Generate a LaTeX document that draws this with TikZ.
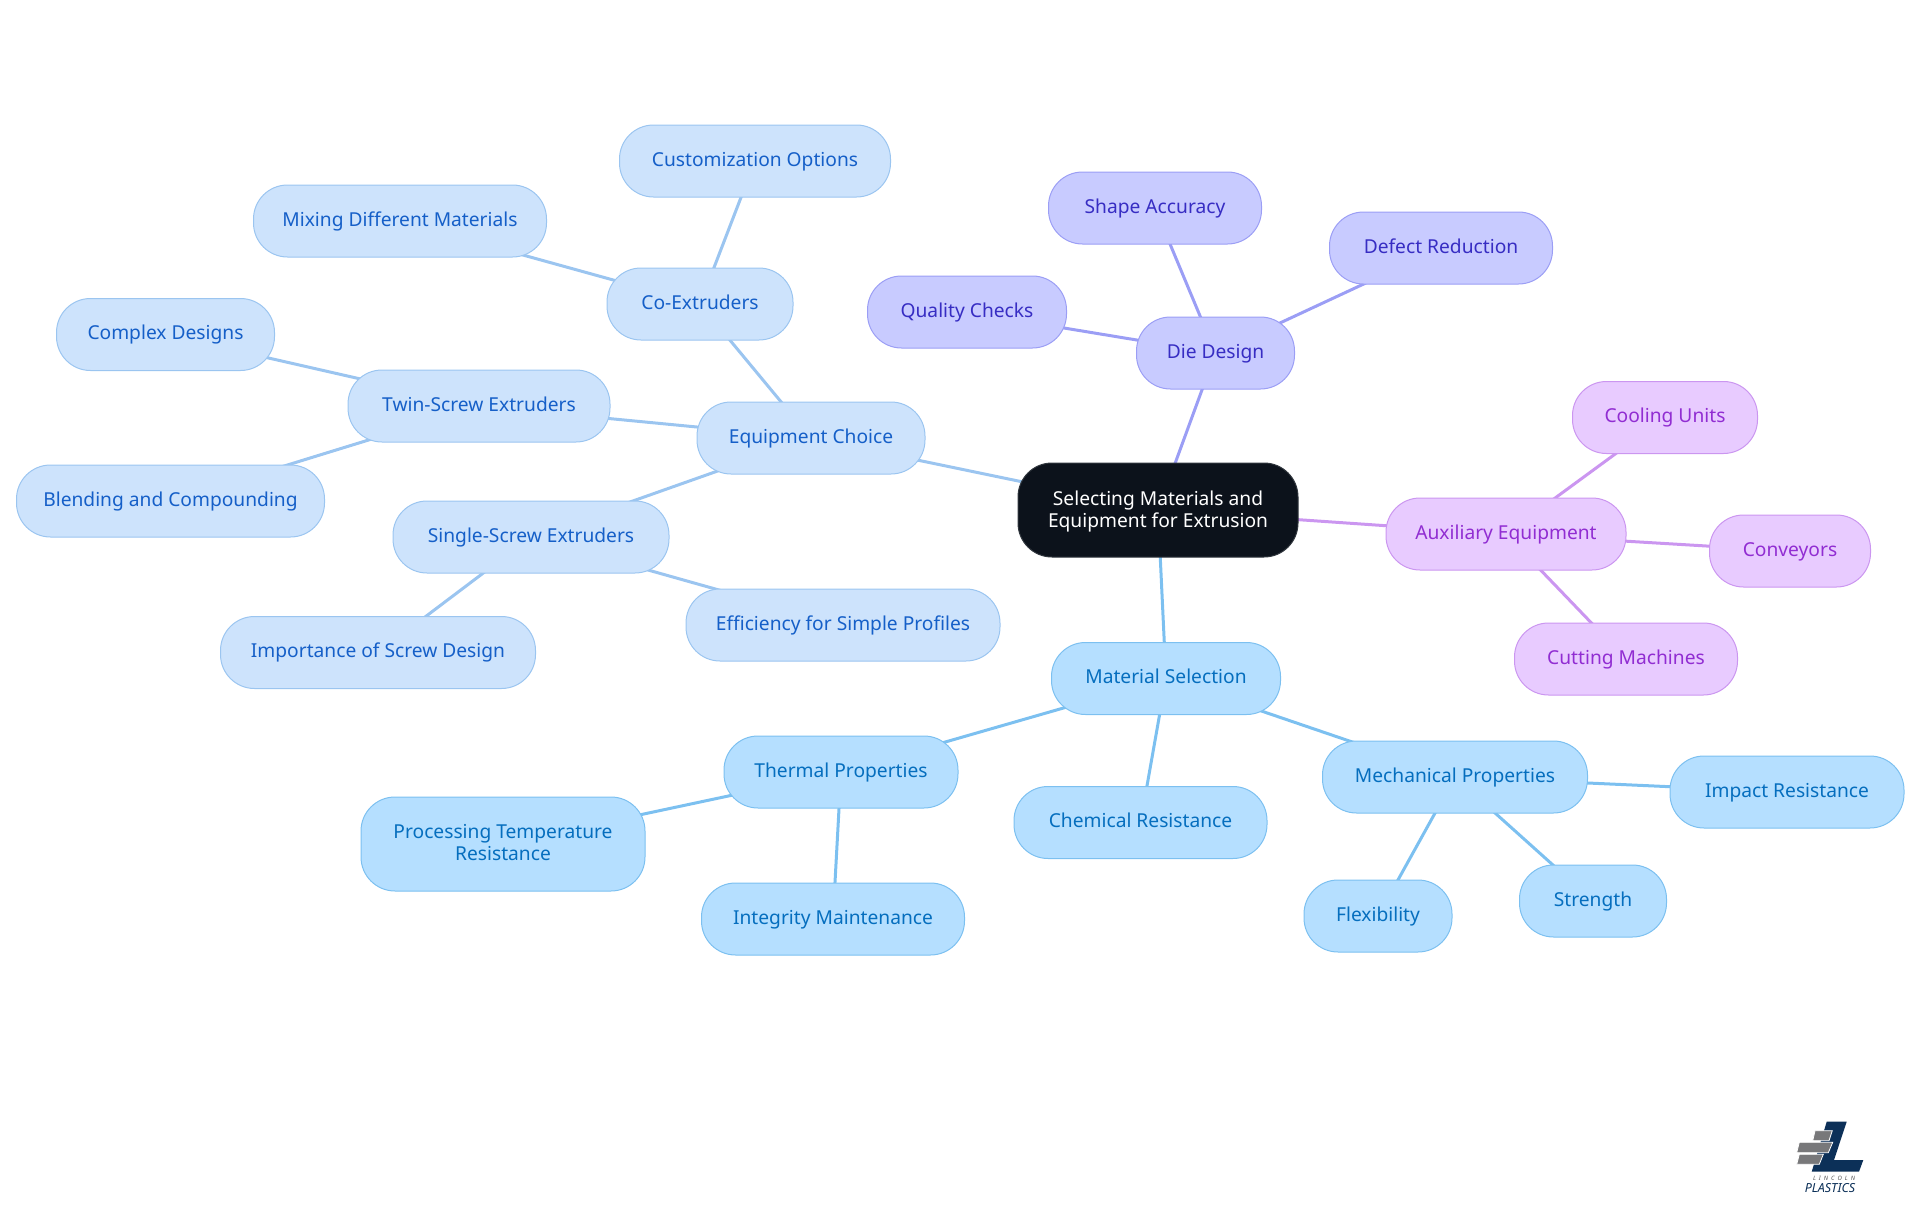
\documentclass[tikz,border=0pt]{standalone}
\usepackage{fontspec}
\setmainfont{Noto Sans}
\usetikzlibrary{backgrounds}
\definecolor{raiz}{RGB}{12, 18, 27}
\definecolor{azulF}{RGB}{181, 223, 255}
\definecolor{azulL}{RGB}{124, 192, 240}
\definecolor{azulT}{RGB}{5, 110, 190}
\definecolor{celesteF}{RGB}{205, 227, 252}
\definecolor{celesteL}{RGB}{155, 197, 240}
\definecolor{celesteT}{RGB}{21, 95, 200}
\definecolor{anilF}{RGB}{200, 203, 255}
\definecolor{anilL}{RGB}{155, 158, 245}
\definecolor{anilT}{RGB}{55, 45, 195}
\definecolor{lilasF}{RGB}{232, 203, 255}
\definecolor{lilasL}{RGB}{203, 150, 240}
\definecolor{lilasT}{RGB}{145, 45, 210}
\definecolor{marinho}{RGB}{12, 48, 88}
\definecolor{tijolo}{RGB}{120, 120, 122}
\tikzset{
  caixa/.style={
    draw, line width=1pt, rounded corners=34pt, align=center,
    minimum height=72pt, inner sep=0pt, text height=14pt, text depth=3.4pt,
    font=\fontsize{19.2}{22}\selectfont
  },
  caixaDupla/.style={minimum height=94pt, text height=, text depth=2.6pt},
  caixaAzul/.style={caixa, fill=azulF, draw=azulL, text=azulT},
  caixaCeleste/.style={caixa, fill=celesteF, draw=celesteL, text=celesteT},
  caixaAnil/.style={caixa, fill=anilF, draw=anilL, text=anilT},
  caixaLilas/.style={caixa, fill=lilasF, draw=lilasL, text=lilasT},
  tijoloLogo/.style={fill=tijolo, draw=white, line width=.8pt},
  linha/.style={line width=3pt},
}
\begin{document}
\begin{tikzpicture}[x=1pt, y=-1pt]
\useasboundingbox (0,0) rectangle (1920,1215);

\node[caixa, caixaDupla, fill=raiz, draw=raiz!85!white, text=white, minimum width=280pt] (root) at (1158,510)
{Selecting Materials and\\Equipment for Extrusion};

% equipment
\node[caixaCeleste, minimum width=228pt] (equipment) at (811,438) {Equipment Choice};
\node[caixaCeleste, minimum width=186pt] (coextruders) at (700,304) {Co-Extruders};
\node[caixaCeleste, minimum width=271pt] (customization) at (755,161) {Customization Options};
\node[caixaCeleste, minimum width=293pt] (mixing) at (400,221) {Mixing Different Materials};
\node[caixaCeleste, minimum width=262pt] (twinscrew) at (479,406) {Twin-Screw Extruders};
\node[caixaCeleste, minimum width=218pt] (complex) at (165.5,334.5) {Complex Designs};
\node[caixaCeleste, minimum width=308pt] (blending) at (170.5,501) {Blending and Compounding};
\node[caixaCeleste, minimum width=276pt] (singlescrew) at (531,537) {Single-Screw Extruders};
\node[caixaCeleste, minimum width=315pt] (importance) at (378,652.5) {Importance of Screw Design};
\node[caixaCeleste, minimum width=314pt] (efficiency) at (843,625) {Efficiency for Simple Profiles};

% die
\node[caixaAnil, minimum width=158pt] (die) at (1215.5,353) {Die Design};
\node[caixaAnil, minimum width=213pt] (shape) at (1155,208) {Shape Accuracy};
\node[caixaAnil, minimum width=223pt] (defect) at (1441,248) {Defect Reduction};
\node[caixaAnil, minimum width=199pt] (quality) at (967,312) {Quality Checks};

% auxiliary
\node[caixaLilas, minimum width=240pt] (auxiliary) at (1506,534) {Auxiliary Equipment};
\node[caixaLilas, minimum width=185pt] (cooling) at (1665,417.5) {Cooling Units};
\node[caixaLilas, minimum width=161pt] (conveyors) at (1790,551) {Conveyors};
\node[caixaLilas, minimum width=223pt] (cutting) at (1626,659) {Cutting Machines};

% material
\node[caixaAzul, minimum width=229pt] (material) at (1166,678.5) {Material Selection};
\node[caixaAzul, minimum width=234pt] (thermal) at (841,772) {Thermal Properties};
\node[caixaAzul, caixaDupla, minimum width=284pt] (processing) at (503,844) {Processing Temperature\\Resistance};
\node[caixaAzul, minimum width=263pt] (integrity) at (833,919) {Integrity Maintenance};
\node[caixaAzul, minimum width=253pt] (chemical) at (1140.5,822.5) {Chemical Resistance};
\node[caixaAzul, minimum width=265pt] (mechanical) at (1455,777) {Mechanical Properties};
\node[caixaAzul, minimum width=234pt] (impact) at (1787,792) {Impact Resistance};
\node[caixaAzul, minimum width=148pt] (flexibility) at (1378,916) {Flexibility};
\node[caixaAzul, minimum width=147pt] (strength) at (1593,901) {Strength};

\begin{scope}[on background layer]
\foreach \a/\b in {root/equipment, equipment/coextruders, coextruders/customization,
    coextruders/mixing, equipment/twinscrew, twinscrew/complex, twinscrew/blending,
    equipment/singlescrew, singlescrew/importance, singlescrew/efficiency}
  \draw[linha, celesteL] (\a.center) -- (\b.center);
\foreach \a/\b in {root/die, die/shape, die/defect, die/quality}
  \draw[linha, anilL] (\a.center) -- (\b.center);
\foreach \a/\b in {root/auxiliary, auxiliary/cooling, auxiliary/conveyors, auxiliary/cutting}
  \draw[linha, lilasL] (\a.center) -- (\b.center);
\foreach \a/\b in {root/material, material/thermal, thermal/processing, thermal/integrity,
    material/chemical, material/mechanical, mechanical/impact, mechanical/flexibility,
    mechanical/strength}
  \draw[linha, azulL] (\a.center) -- (\b.center);
\end{scope}

% logo
\fill[marinho] (1826.7,1121.7) -- (1846.7,1121.7) -- (1834,1160) -- (1863.3,1160) -- (1859,1171.7) -- (1811.7,1171.7) -- cycle;
\draw[tijoloLogo] (1815,1130.7) -- (1832.3,1130.7) -- (1829,1140.7) -- (1812.7,1140.7) -- cycle;
\draw[tijoloLogo] (1799.3,1142.3) -- (1832.7,1142.3) -- (1828.3,1152.7) -- (1796.7,1152.7) -- cycle;
\draw[tijoloLogo] (1799.3,1154.3) -- (1823.3,1154.3) -- (1819.3,1164.3) -- (1796.7,1164.3) -- cycle;
\node[text=tijolo!70!black, font=\fontsize{6}{6}\selectfont\itshape, inner sep=0pt] (lincoln) at (1834,1178) {L\,\,\,I\,\,\,N\,\,\,C\,\,\,O\,\,\,L\,\,\,N};
\node[text=marinho, font=\fontsize{12.5}{12.5}\selectfont\bfseries\itshape, inner sep=0pt] (plastics) at (1830,1188.5) {PLASTICS};

\end{tikzpicture}
\end{document}
